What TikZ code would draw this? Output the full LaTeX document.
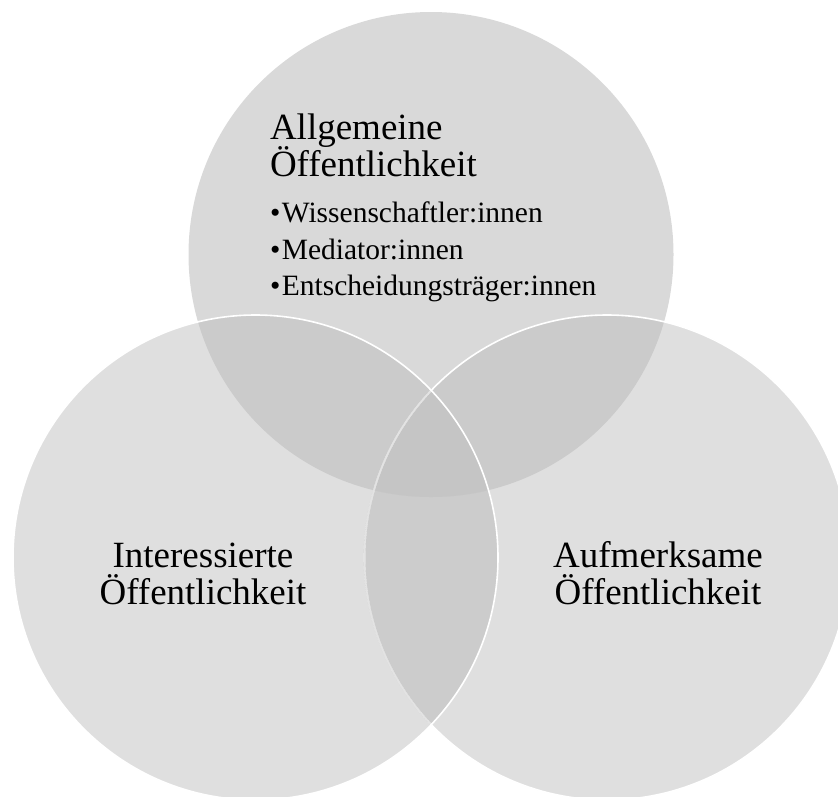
\documentclass[tikz,border=0pt]{standalone}
\usepackage{fontspec}
\setmainfont{Liberation Serif}
\definecolor{topfill}{HTML}{D9D9D9}
\definecolor{sidefill}{HTML}{DFDFDF}
\definecolor{pairfill}{HTML}{CBCBCB}
\definecolor{lensfill}{HTML}{CCCCCC}
\definecolor{triplefill}{HTML}{C5C5C5}
\tikzset{
  lbl/.style={inner sep=0pt, outer sep=0pt, text=black, font=\fontsize{37}{37}\selectfont},
  itm/.style={inner sep=0pt, outer sep=0pt, text=black, font=\fontsize{29.5}{30}\selectfont},
  rim/.style={draw=white, line width=1.6pt},
}
\begin{document}
\begin{tikzpicture}[x=1pt, y=-1pt]
  \useasboundingbox (0,0) rectangle (838,796);
  \clip (0,0) rectangle (838,796);
  % circle centres and radius
  \coordinate (ct) at (431,254.5);
  \coordinate (cl) at (255.5,557.5);
  \coordinate (cr) at (607,557.5);
  \def\rad{242.5}
  % single areas
  \fill[topfill] (ct) circle[radius=\rad];
  \fill[sidefill] (cl) circle[radius=\rad];
  \fill[sidefill] (cr) circle[radius=\rad];
  % pairwise overlaps
  \begin{scope}
    \clip (cl) circle[radius=\rad];
    \fill[pairfill] (ct) circle[radius=\rad];
    \fill[lensfill] (cr) circle[radius=\rad];
  \end{scope}
  \begin{scope}
    \clip (cr) circle[radius=\rad];
    \fill[pairfill] (ct) circle[radius=\rad];
  \end{scope}
  % triple overlap
  \begin{scope}
    \clip (cl) circle[radius=\rad];
    \clip (cr) circle[radius=\rad];
    \fill[triplefill] (ct) circle[radius=\rad];
  \end{scope}
  % white rims: right circle, dimmed where the left one lies above it
  \draw[rim] (cr) circle[radius=\rad];
  \begin{scope}
    \clip (cl) circle[radius=\rad];
    \draw[line width=1.8pt, draw=lensfill] (cr) circle[radius=\rad];
    \draw[rim, draw opacity=0.45] (cr) circle[radius=\rad];
  \end{scope}
  \draw[rim] (cl) circle[radius=\rad];
  % labels
  \node[lbl, anchor=base west] (t1) at (270,139) {Allgemeine};
  \node[lbl, anchor=base west] (t2) at (270,176.5) {Öffentlichkeit};
  \node[itm, anchor=base west] (b1) at (270,222) {•\kern1.5pt Wissenschaftler:innen};
  \node[itm, anchor=base west] (b2) at (270,259) {•\kern1.5pt Mediator:innen};
  \node[itm, anchor=base west] (b3) at (270,295.5) {•\kern1.5pt Entscheidungsträger:innen};
  \node[lbl, anchor=base] (l1) at (203,567) {Interessierte};
  \node[lbl, anchor=base] (l2) at (203,604) {Öffentlichkeit};
  \node[lbl, anchor=base] (r1) at (658,567) {Aufmerksame};
  \node[lbl, anchor=base] (r2) at (658,604) {Öffentlichkeit};
\end{tikzpicture}
\end{document}
